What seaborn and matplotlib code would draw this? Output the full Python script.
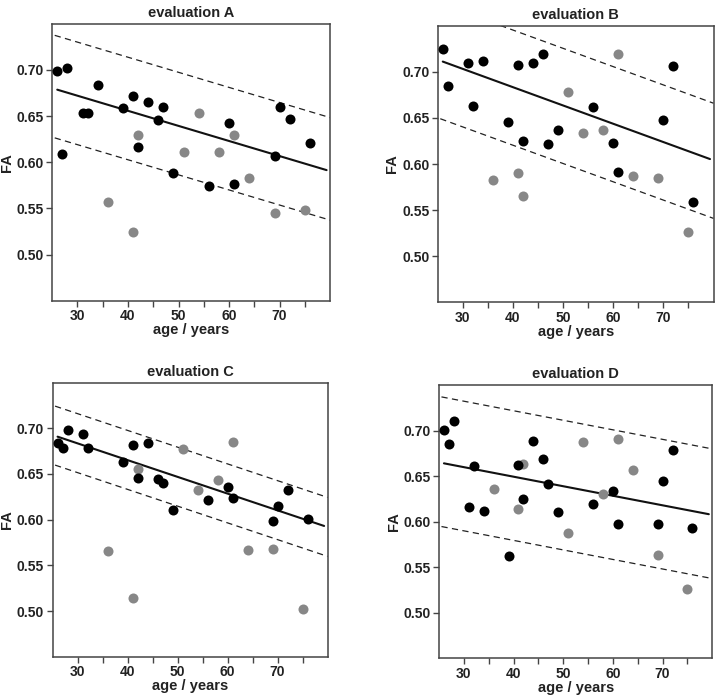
import numpy as np
import matplotlib
matplotlib.use("Agg")
import matplotlib.pyplot as plt
import seaborn as sns

sns.set_theme(style="white")
plt.rcParams['font.family'] = ['Liberation Sans', 'DejaVu Sans']
plt.rcParams['font.weight'] = 'bold'
plt.rcParams['xtick.bottom'] = True
plt.rcParams['ytick.left'] = True
plt.rcParams['xtick.major.size'] = 4
plt.rcParams['ytick.major.size'] = 4

# --- data (age in years, FA) ---
age_black_A = [26, 27, 28, 31, 32, 34, 39, 41, 42, 44, 46, 47, 49, 56, 60, 61, 69, 70, 72, 76]
fa_black_A = [0.699, 0.609, 0.702, 0.653, 0.653, 0.684, 0.659, 0.672, 0.617, 0.665,
              0.646, 0.660, 0.588, 0.574, 0.642, 0.576, 0.607, 0.660, 0.647, 0.621]
age_gray_A = [36, 41, 42, 51, 54, 58, 61, 64, 69, 75]
fa_gray_A = [0.557, 0.524, 0.629, 0.611, 0.653, 0.611, 0.630, 0.583, 0.545, 0.548]

age_black_B = [26, 27, 31, 32, 34, 39, 41, 42, 44, 46, 47, 49, 56, 60, 61, 70, 72, 76]
fa_black_B = [0.725, 0.685, 0.710, 0.663, 0.712, 0.646, 0.707, 0.625, 0.710, 0.719,
              0.622, 0.637, 0.662, 0.623, 0.591, 0.648, 0.706, 0.559]
age_gray_B = [36, 41, 42, 51, 54, 58, 61, 64, 69, 75]
fa_gray_B = [0.583, 0.590, 0.565, 0.678, 0.634, 0.637, 0.719, 0.587, 0.585, 0.526]

age_black_C = [26, 27, 28, 31, 32, 39, 41, 42, 44, 46, 47, 49, 56, 60, 61, 69, 70, 72, 76]
fa_black_C = [0.684, 0.678, 0.698, 0.694, 0.678, 0.663, 0.682, 0.646, 0.684, 0.644,
              0.640, 0.611, 0.622, 0.636, 0.624, 0.599, 0.615, 0.632, 0.601]
age_gray_C = [36, 41, 42, 51, 54, 58, 61, 64, 69, 75]
fa_gray_C = [0.566, 0.514, 0.655, 0.677, 0.632, 0.643, 0.685, 0.567, 0.568, 0.502]

age_black_D = [26, 27, 28, 31, 32, 34, 39, 41, 42, 44, 46, 47, 49, 56, 60, 61, 69, 70, 72, 76]
fa_black_D = [0.701, 0.685, 0.711, 0.616, 0.661, 0.612, 0.562, 0.662, 0.625, 0.689,
              0.669, 0.641, 0.611, 0.619, 0.634, 0.597, 0.598, 0.645, 0.679, 0.593]
age_gray_D = [36, 41, 42, 51, 54, 58, 61, 64, 69, 75]
fa_gray_D = [0.636, 0.614, 0.664, 0.588, 0.688, 0.631, 0.691, 0.657, 0.563, 0.526]

# regression line (intercept, slope) and band offsets (upper, lower) per evaluation
fit_intercept = {'A': 0.7211, 'B': 0.7628, 'C': 0.7384, 'D': 0.6915}
fit_slope = {'A': -0.001634, 'B': -0.001985, 'C': -0.001832, 'D': -0.001049}
band_upper = {'A': 0.058, 'B': 0.062, 'C': 0.0325, 'D': 0.0725}
band_lower = {'A': 0.053, 'B': 0.063, 'C': 0.032, 'D': 0.070}

panels = {
    'A': (age_black_A, fa_black_A, age_gray_A, fa_gray_A),
    'B': (age_black_B, fa_black_B, age_gray_B, fa_gray_B),
    'C': (age_black_C, fa_black_C, age_gray_C, fa_gray_C),
    'D': (age_black_D, fa_black_D, age_gray_D, fa_gray_D),
}

# axes positions [left, bottom, width, height] in figure fraction
positions = {
    'A': [0.0725, 0.569, 0.386, 0.397],
    'B': [0.608, 0.567, 0.383, 0.396],
    'C': [0.073, 0.059, 0.382, 0.393],
    'D': [0.6097, 0.057, 0.3796, 0.391],
}

fig = plt.figure(figsize=(7.2, 6.98), dpi=100)
spine_col = '#444444'

for key, (ab, fb, ag, fg) in panels.items():
    ax = fig.add_axes(positions[key])
    sns.scatterplot(x=ag, y=fg, ax=ax, color='#878787', s=52, linewidth=0, zorder=3)
    sns.scatterplot(x=ab, y=fb, ax=ax, color='#000000', s=52, linewidth=0, zorder=4)

    b0, b1 = fit_intercept[key], fit_slope[key]
    xs = np.array([26.0, 79.3])
    ax.plot(xs, b0 + b1 * xs, color='#111111', lw=1.5, zorder=2)
    xd = np.array([25.5, 80.0])
    ax.plot(xd, b0 + b1 * xd + band_upper[key], color='#222222', lw=0.9,
            dashes=(5, 3.5), zorder=2)
    ax.plot(xd, b0 + b1 * xd - band_lower[key], color='#222222', lw=0.9,
            dashes=(5, 3.5), zorder=2)

    ax.set_xlim(25, 80)
    ax.set_ylim(0.45, 0.75)
    ax.set_xticks(np.arange(30, 80, 5))
    ax.set_xticklabels(['30', '', '40', '', '50', '', '60', '', '70', ''])
    ax.set_yticks([0.50, 0.55, 0.60, 0.65, 0.70])
    ax.set_yticklabels(['0.50', '0.55', '0.60', '0.65', '0.70'])
    ax.tick_params(axis='both', which='major', direction='out', length=4, width=1,
                   color=spine_col, labelsize=10, pad=2, labelcolor='#222222',
                   bottom=True, left=True)
    for sp in ax.spines.values():
        sp.set_color(spine_col)
        sp.set_linewidth(1.1)
    ax.set_xlabel('age / years', fontsize=10.5, fontweight='bold', labelpad=0, color='#222222')
    ax.set_ylabel('FA', fontsize=10.5, fontweight='bold', labelpad=2, color='#222222')
    ax.set_title('evaluation ' + key, fontsize=10.5, fontweight='bold', pad=5, color='#222222')

fig.savefig('out.png', dpi=100)
